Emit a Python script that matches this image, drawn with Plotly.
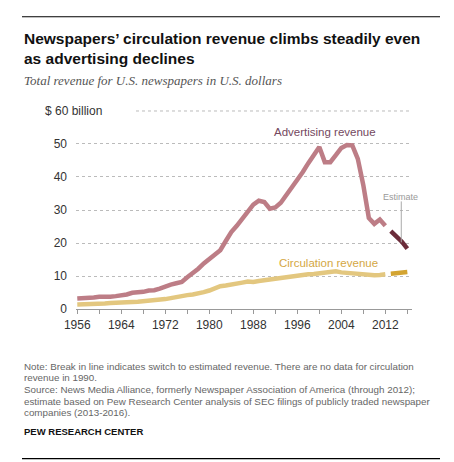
import plotly.graph_objects as go

# ---------------- data ----------------
years = list(range(1956, 2013))
advertising = [3.2, 3.2, 3.2, 3.5, 3.7, 3.6, 3.7, 3.9, 4.1, 4.4,
               4.9, 4.9, 5.2, 5.6, 5.7, 6.2, 6.9, 7.4, 7.8, 8.2,
               9.6, 10.8, 12.2, 13.8, 15.0, 16.5, 17.8, 20.6, 23.3, 25.2,
               27.2, 29.6, 31.6, 32.8, 32.4, 30.4, 30.8, 32.2, 34.5, 36.5,
               38.8, 41.5, 44.2, 46.7, 49.1, 44.5, 44.5, 46.6, 48.8, 49.7,
               49.6, 45.5, 37.5, 27.6, 25.8, 27.1, 25.2]
circulation = [1.4, 1.4, 1.5, 1.6, 1.7, 1.7, 1.8, 1.8, 2.0, 2.0,
               2.1, 2.2, 2.3, 2.5, 2.7, 2.9, 3.0, 3.3, 3.7, 3.9,
               4.2, 4.4, 4.6, 5.1, 5.6, 6.4, 6.9, 7.1, 7.5, 7.8,
               8.0, 8.3, 8.2, 8.5, None, 9.0, 9.2, 9.4, 9.7, 10.0,
               10.2, 10.4, 10.5, 10.6, 10.8, 11.0, 11.3, 11.4, 11.1, 10.9,
               10.7, 10.5, 10.4, 10.2, 10.2, 10.3, 10.5]
est_years = [2013, 2014, 2015, 2016]
advertising_est = [23.6, 22.1, 20.4, 18.3]
circulation_est = [10.7, 10.8, 11.0, 11.2]

x_tickvals = list(range(1956, 2017, 4))
x_ticktext = [str(y) if (y - 1956) % 8 == 0 and y != 2016 else "" for y in x_tickvals]
y_tickvals = [0, 10, 20, 30, 40, 50]

# ---------------- style ----------------
W, H = 454, 462
L, R, T, B = 68, 50, 101.5, 161
PW, PH = W - L - R, H - T - B

def px(x):
    return (x - L) / PW

def py(y):
    return (H - B - y) / PH

SANS = "Liberation Sans, Arial, sans-serif"

fig = go.Figure()
fig.add_trace(go.Scatter(x=years, y=advertising, mode="lines",
                         line=dict(color="#BD7D86", width=4.5), hoverinfo="skip"))
fig.add_trace(go.Scatter(x=est_years, y=advertising_est, mode="lines",
                         line=dict(color="#6B2C3A", width=4.5), hoverinfo="skip"))
fig.add_trace(go.Scatter(x=years, y=circulation, mode="lines", connectgaps=True,
                         line=dict(color="#E3C77F", width=4.5), hoverinfo="skip"))
fig.add_trace(go.Scatter(x=est_years, y=circulation_est, mode="lines",
                         line=dict(color="#D3A431", width=4.5), hoverinfo="skip"))

ann = []
ann.append(dict(text="<b>Newspapers’ circulation revenue climbs steadily even</b>",
                x=px(14), y=py(29.5), xanchor="left", yanchor="middle",
                font=dict(family=SANS, size=15.5, color="#111")))
ann.append(dict(text="<b>as advertising declines</b>",
                x=px(14), y=py(49.5), xanchor="left", yanchor="middle",
                font=dict(family=SANS, size=15.5, color="#111")))
ann.append(dict(text="<i>Total revenue for U.S. newspapers in U.S. dollars</i>",
                x=px(14), y=py(72), xanchor="left", yanchor="middle",
                font=dict(family="Liberation Serif, serif", size=13, color="#555")))
ann.append(dict(text="$ 60 billion",
                x=px(35), y=60, yref="y", xanchor="left", yanchor="middle",
                font=dict(family=SANS, size=12, color="#333")))
ann.append(dict(text="Advertising revenue", x=2001.0, y=53.6, xref="x", yref="y",
                xanchor="center", yanchor="middle",
                font=dict(family=SANS, size=11.5, color="#74485E")))
ann.append(dict(text="Circulation revenue", x=2001.6, y=14.0, xref="x", yref="y",
                xanchor="center", yanchor="middle",
                font=dict(family=SANS, size=11.5, color="#D4A743")))
ann.append(dict(text="Estimate", x=2014.7, y=34.0, xref="x", yref="y",
                xanchor="center", yanchor="middle",
                font=dict(family=SANS, size=9, color="#9A9A9A")))
notes = ["Note: Break in line indicates switch to estimated revenue. There are no data for circulation",
         "revenue in 1990.",
         "Source: News Media Alliance, formerly Newspaper Association of America (through 2012);",
         "estimate based on Pew Research Center analysis of SEC filings of publicly traded newspaper",
         "companies (2013-2016)."]
for i, line in enumerate(notes):
    ann.append(dict(text=line, x=px(14), y=py(358.5 + i * 11.6), xanchor="left", yanchor="middle",
                    font=dict(family=SANS, size=9.8, color="#666")))
ann.append(dict(text="<b>PEW RESEARCH CENTER</b>", x=px(14), y=py(424), xanchor="left",
                yanchor="middle", font=dict(family=SANS, size=9.5, color="#111")))
for a in ann:
    a.setdefault("xref", "paper")
    a.setdefault("yref", "paper")
    a["showarrow"] = False

shapes = [
    dict(type="line", xref="paper", yref="paper", x0=px(14), x1=px(432), y0=py(8), y1=py(8),
         line=dict(color="#000", width=1.2)),
    dict(type="line", xref="paper", yref="paper", x0=px(14), x1=px(432), y0=py(451), y1=py(451),
         line=dict(color="#000", width=1.2)),
    dict(type="line", xref="paper", yref="y", x0=px(128), x1=1, y0=60, y1=60,
         line=dict(color="#BBBBBB", width=1, dash="dot"), layer="below"),
    dict(type="line", xref="x", yref="y", x0=2014.9, x1=2014.9, y0=32.6, y1=20.2,
         line=dict(color="#AAAAAA", width=1)),
]

fig.update_layout(
    width=W, height=H, margin=dict(l=L, r=R, t=T, b=B, pad=0),
    paper_bgcolor="white", plot_bgcolor="white", showlegend=False,
    annotations=ann, shapes=shapes,
    xaxis=dict(range=[1955.77, 2016.85], tickvals=x_tickvals, ticktext=x_ticktext,
               showgrid=False, zeroline=False, showline=True, linecolor="#999", linewidth=1.3,
               ticks="outside", ticklen=4, tickcolor="#999", tickwidth=1,
               tickfont=dict(family=SANS, size=12, color="#333"), fixedrange=True),
    yaxis=dict(range=[0, 60.3], tickvals=y_tickvals, showgrid=True, gridcolor="#BBBBBB",
               griddash="dot", gridwidth=1, zeroline=False, showline=False, ticks="",
               ticklabelstandoff=8,
               tickfont=dict(family=SANS, size=12, color="#333"), fixedrange=True),
)
fig.write_html("out.html")
